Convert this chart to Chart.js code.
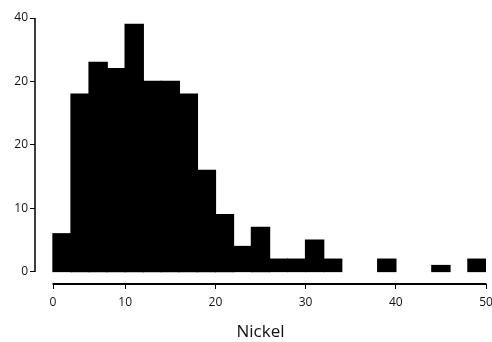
<!DOCTYPE html>
<html>
<head>
<meta charset="utf-8">
<script src="https://cdn.jsdelivr.net/npm/chart.js@4/dist/chart.umd.min.js"></script>
<style>
  html, body { margin: 0; padding: 0; background: #fff; }
  #wrap { width: 492px; height: 342px; }
</style>
</head>
<body>
<div id="wrap"><canvas id="c" width="492" height="342"></canvas></div>
<script>
// Histogram of Nickel: bin start values (width 2) and counts
const binStarts = [2, 4, 6, 8, 10, 12, 14, 16, 18, 20, 22, 24, 26, 28, 30, 32, 34, 36, 38, 40, 42, 44, 46, 48];
const counts    = [6, 28, 33, 32, 39, 30, 30, 28, 16, 9, 4, 7, 2, 2, 5, 2, 0, 0, 2, 0, 0, 1, 0, 2];
const binWidth = 2;

// Tick positions and labels as printed
const xTickValues = [2, 10, 20, 30, 40, 50];
const xTickLabels = ['0', '10', '20', '30', '40', '50'];
const yTickValues = [0, 10, 20, 30, 40];
const yTickLabels = ['0', '10', '20', '20', '40'];

const xAxisTitle = 'Nickel';

// empty bins are left undrawn (null) so no hairline appears at the baseline
const points = binStarts.map((s, i) => ({ x: s + binWidth / 2, y: counts[i] === 0 ? null : counts[i] }));

const FONT = "'Open Sans', 'DejaVu Sans', sans-serif";

const axisLines = {
  id: 'axisLines',
  afterDraw(chart) {
    const { ctx, scales: { x, y }, chartArea } = chart;
    ctx.save();
    ctx.strokeStyle = '#000';
    ctx.lineWidth = 1.5;
    const yx = x.getPixelForValue(0);
    ctx.beginPath();
    ctx.moveTo(yx, y.getPixelForValue(yTickValues[0]));
    ctx.lineTo(yx, y.getPixelForValue(yTickValues[yTickValues.length - 1]));
    ctx.stroke();
    ctx.lineWidth = 2;
    const xy = chartArea.bottom;
    ctx.beginPath();
    ctx.moveTo(x.getPixelForValue(xTickValues[0]) - 0.5, xy);
    ctx.lineTo(x.getPixelForValue(xTickValues[xTickValues.length - 1]) + 0.5, xy);
    ctx.stroke();
    ctx.restore();
  }
};

new Chart(document.getElementById('c'), {
  type: 'bar',
  data: {
    datasets: [{
      data: points,
      backgroundColor: '#000',
      borderWidth: 0,
      inflateAmount: 0.7,
      barPercentage: 1,
      categoryPercentage: 1
    }]
  },
  options: {
    responsive: false,
    animation: false,
    devicePixelRatio: 1,
    layout: { padding: { top: 18, right: 6, left: 0, bottom: 0 } },
    plugins: { legend: { display: false }, tooltip: { enabled: false } },
    scales: {
      x: {
        type: 'linear',
        min: 0,
        max: 50,
        offset: false,
        grid: { display: true, offset: false, drawOnChartArea: false, drawTicks: true, tickLength: 5, color: '#000', lineWidth: 1 },
        border: { display: false },
        afterBuildTicks(scale) { scale.ticks = xTickValues.map(v => ({ value: v })); },
        afterFit(scale) { scale.height = 58; scale.paddingLeft = 0; scale.paddingRight = 0; },
        ticks: {
          autoSkip: false,
          maxRotation: 0,
          padding: 6,
          color: '#111',
          font: { family: FONT, size: 12 },
          callback: (v) => { const i = xTickValues.indexOf(v); return i >= 0 ? xTickLabels[i] : ''; }
        },
        title: {
          display: true,
          text: xAxisTitle,
          color: '#111',
          font: { family: FONT, size: 17 },
          padding: { top: 0, bottom: 0 }
        }
      },
      y: {
        type: 'linear',
        min: -1.9,
        max: 40,
        grid: { display: true, drawOnChartArea: false, drawTicks: true, tickLength: 5, color: '#000', lineWidth: 1 },
        border: { display: false },
        afterBuildTicks(scale) { scale.ticks = yTickValues.map(v => ({ value: v })); },
        afterFit(scale) { scale.width = 35; scale.paddingTop = 0; scale.paddingBottom = 0; },
        ticks: {
          autoSkip: false,
          padding: 2,
          color: '#111',
          font: { family: FONT, size: 12 },
          callback: (v) => { const i = yTickValues.indexOf(v); return i >= 0 ? yTickLabels[i] : ''; }
        }
      }
    }
  },
  plugins: [axisLines]
});
</script>
</body>
</html>
